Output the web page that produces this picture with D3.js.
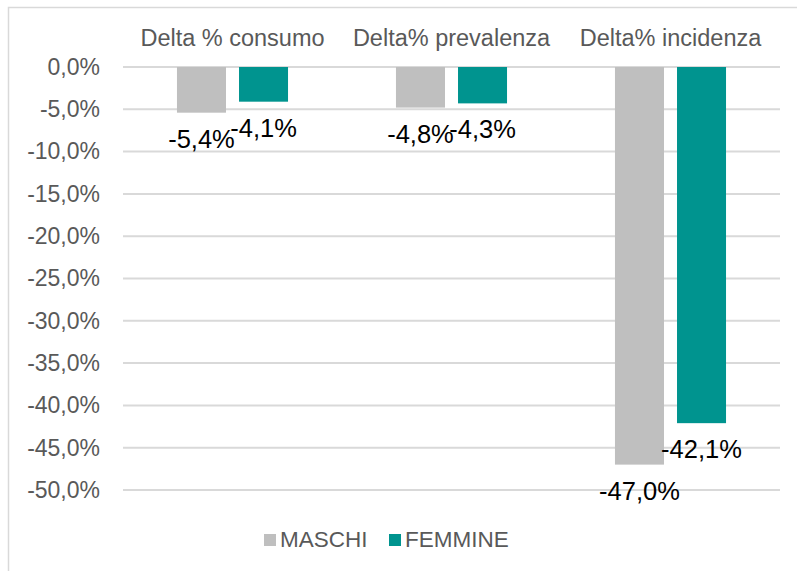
<!DOCTYPE html>
<meta charset="utf-8">
<style>
    body {
        margin: 0;
        background-color: #ffffff;
        font-family: "Liberation Sans", Arial, sans-serif;
    }
    .grid line {
        stroke: #d9d9d9;
        stroke-width: 2;
    }
    .axis text {
        fill: #595959;
        font-size: 23px;
    }
    .cat {
        fill: #595959;
        font-size: 23.5px;
    }
    .label {
        fill: #000;
        font-size: 25.5px;
    }
    .legend text {
        fill: #595959;
        font-size: 22.5px;
    }
</style>
<body>
<script src="https://cdn.jsdelivr.net/npm/d3@7"></script>
<script>

    var categories = ["Delta % consumo", "Delta% prevalenza", "Delta% incidenza"];
    var series = ["MASCHI", "FEMMINE"];
    var maschi = [-0.054, -0.048, -0.470];
    var femmine = [-0.041, -0.043, -0.421];
    var yTicks = [0, -0.05, -0.10, -0.15, -0.20, -0.25, -0.30, -0.35, -0.40, -0.45, -0.50];
    var colors = ["#bfbfbf", "#00948f"];

    var width = 797, height = 571;

    var it = d3.formatLocale({decimal: ",", thousands: ".", grouping: [3], currency: ["", "€"], minus: "-"});
    var fmt = it.format(".1%");

    var x0 = d3.scaleBand()
            .domain(categories)
            .range([123, 780]);

    var x1 = d3.scaleBand()
            .domain(series)
            .range([0, x0.bandwidth()])
            .paddingInner(0.21)
            .paddingOuter(0.87);

    var y = d3.scaleLinear()
            .domain([-0.5, 0])
            .range([490, 67]);

    var color = d3.scaleOrdinal().domain(series).range(colors);

    var svg = d3.select("body").append("svg")
            .attr("width", width)
            .attr("height", height);

    // chart frame (only top and left edges are visible in the picture)
    svg.append("rect")
            .attr("x", 8.5)
            .attr("y", 7.5)
            .attr("width", 820)
            .attr("height", 600)
            .attr("fill", "none")
            .attr("stroke", "#d9d9d9")
            .attr("stroke-width", 1.5);

    svg.append("g")
            .attr("class", "grid")
        .selectAll("line")
        .data(yTicks)
        .enter().append("line")
            .attr("x1", 123)
            .attr("x2", 780)
            .attr("y1", function(d) { return y(d); })
            .attr("y2", function(d) { return y(d); });

    var yAxis = d3.axisLeft(y)
            .tickValues(yTicks)
            .tickFormat(fmt)
            .tickSize(0)
            .tickPadding(23);

    svg.append("g")
            .attr("class", "axis")
            .attr("transform", "translate(123,0)")
            .call(yAxis)
            .call(function(g) { g.select(".domain").remove(); })
            .selectAll("text")
            .attr("font-family", null)
            .attr("font-size", null);

    svg.append("g")
        .selectAll("text")
        .data(categories)
        .enter().append("text")
            .attr("class", "cat")
            .attr("x", function(d) { return x0(d) + x0.bandwidth() / 2; })
            .attr("y", 46)
            .attr("text-anchor", "middle")
            .text(function(d) { return d; });

    var rows = categories.map(function(c, i) {
        return {cat: c, values: [{s: "MASCHI", v: maschi[i]}, {s: "FEMMINE", v: femmine[i]}]};
    });

    var group = svg.append("g")
        .selectAll("g")
        .data(rows)
        .enter().append("g")
            .attr("transform", function(d) { return "translate(" + x0(d.cat) + ",0)"; });

    group.selectAll("rect")
        .data(function(d) { return d.values; })
        .enter().append("rect")
            .attr("x", function(d) { return x1(d.s); })
            .attr("y", y(0))
            .attr("width", x1.bandwidth())
            .attr("height", function(d) { return y(d.v) - y(0); })
            .attr("fill", function(d) { return color(d.s); });

    group.selectAll("text")
        .data(function(d) { return d.values; })
        .enter().append("text")
            .attr("class", "label")
            .attr("x", function(d) { return x1(d.s) + x1.bandwidth() / 2; })
            .attr("y", function(d) { return y(d.v) + 35; })
            .attr("text-anchor", "middle")
            .text(function(d) { return fmt(d.v); });

    var legend = svg.append("g")
            .attr("class", "legend");

    var legendX = [264, 389];

    var item = legend.selectAll("g")
        .data(series)
        .enter().append("g")
            .attr("transform", function(d, i) { return "translate(" + legendX[i] + ",534)"; });

    item.append("rect")
            .attr("width", 12)
            .attr("height", 12)
            .attr("fill", function(d) { return color(d); });

    item.append("text")
            .attr("x", 16)
            .attr("y", 13)
            .text(function(d) { return d; });

</script>
